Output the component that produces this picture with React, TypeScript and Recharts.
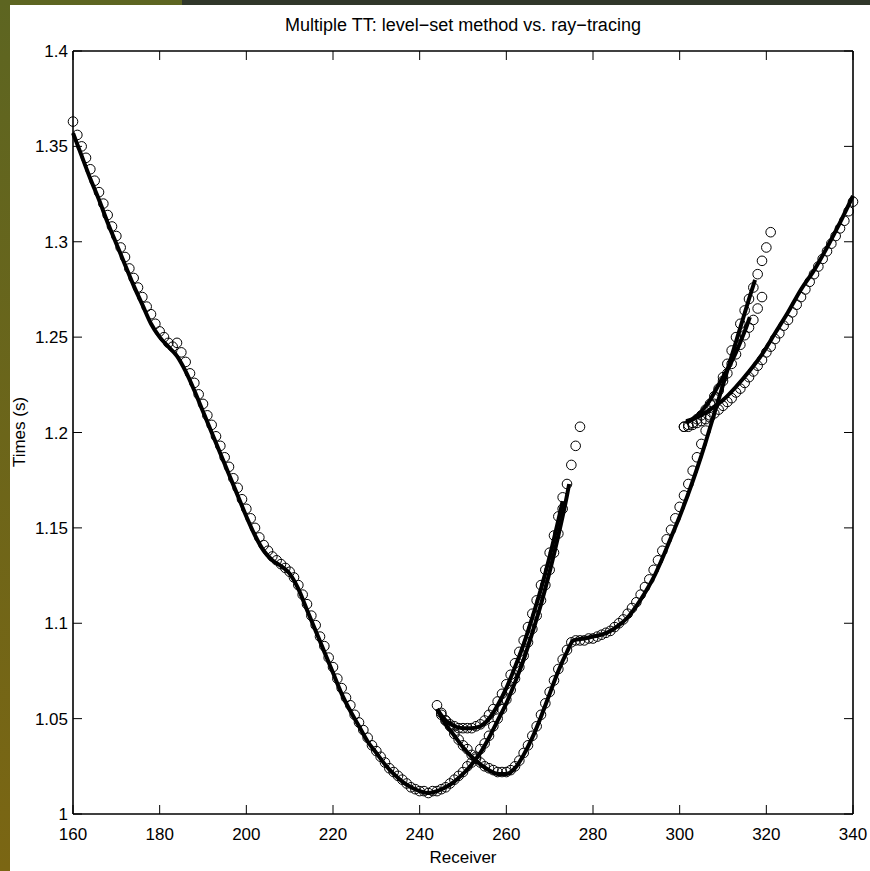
import { ComposedChart, Line, Scatter, XAxis, YAxis } from "recharts";

// axis ticks
const xTicks = [160, 180, 200, 220, 240, 260, 280, 300, 320, 340];
const yTicks = [1, 1.05, 1.1, 1.15, 1.2, 1.25, 1.3, 1.35, 1.4];
const yTickLabels = ["1", "1.05", "1.1", "1.15", "1.2", "1.25", "1.3", "1.35", "1.4"];

// level-set method (thick lines): receivers + times per branch
const lineARx = [160, 162, 164, 166, 168, 170, 172, 174, 176, 178, 180, 182, 184, 186, 188, 190, 192, 194, 196, 198, 200, 202, 204, 206, 208, 210, 212, 214, 216, 218, 220, 222, 224, 226, 228, 230, 232, 234, 236, 238, 240, 242, 244, 246, 248, 250, 252, 254, 256, 258, 260, 262, 264, 266, 268, 270, 272, 274, 274.5];
const lineAT = [1.357, 1.345, 1.333, 1.322, 1.31, 1.299, 1.288, 1.277, 1.267, 1.257, 1.25, 1.245, 1.24, 1.232, 1.222, 1.211, 1.2, 1.189, 1.178, 1.167, 1.156, 1.146, 1.138, 1.133, 1.13, 1.126, 1.118, 1.107, 1.096, 1.085, 1.074, 1.063, 1.054, 1.046, 1.038, 1.032, 1.026, 1.021, 1.017, 1.014, 1.012, 1.011, 1.012, 1.014, 1.017, 1.021, 1.026, 1.032, 1.04, 1.049, 1.058, 1.069, 1.081, 1.095, 1.11, 1.127, 1.146, 1.167, 1.173];

const lineMRx = [244, 246, 248, 250, 252, 254, 256, 258, 260, 262, 264, 266, 268, 270, 272, 273];
const lineMT = [1.055, 1.049, 1.046, 1.045, 1.045, 1.046, 1.05, 1.057, 1.066, 1.077, 1.089, 1.103, 1.118, 1.135, 1.154, 1.164];

const lineBRx = [244, 246, 248, 250, 252, 254, 256, 258, 260, 262, 264, 266, 268, 270, 272, 274, 275.5, 278, 280, 282, 284, 286, 288, 290, 292, 294, 296, 298, 300, 302, 304, 306, 308, 310, 312, 314, 316, 317.4];
const lineBT = [1.055, 1.047, 1.041, 1.035, 1.03, 1.026, 1.023, 1.021, 1.021, 1.024, 1.031, 1.04, 1.051, 1.063, 1.075, 1.085, 1.091, 1.092, 1.093, 1.094, 1.096, 1.099, 1.103, 1.109, 1.116, 1.124, 1.134, 1.145, 1.156, 1.168, 1.181, 1.195, 1.21, 1.225, 1.24, 1.255, 1.27, 1.28];

const lineM2Rx = [301.5, 303, 305, 307, 309, 311, 313, 315, 316.2];
const lineM2T = [1.205, 1.207, 1.211, 1.217, 1.225, 1.233, 1.242, 1.253, 1.2605];

const lineCRx = [301.5, 304, 307, 310, 313, 316, 319, 322, 325, 328, 331, 334, 337, 340];
const lineCT = [1.206, 1.208, 1.212, 1.217, 1.224, 1.232, 1.241, 1.252, 1.263, 1.275, 1.285, 1.297, 1.31, 1.324];

// ray-tracing (circles): first receiver + times at consecutive receivers
const circAStart = 160;
const circAT = [1.363, 1.356, 1.35, 1.344, 1.338, 1.332, 1.326, 1.32, 1.314, 1.308, 1.303, 1.297, 1.292, 1.286, 1.281, 1.276, 1.271, 1.266, 1.262, 1.257, 1.253, 1.25, 1.247, 1.245, 1.247, 1.242, 1.237, 1.231, 1.226, 1.22, 1.215, 1.209, 1.204, 1.198, 1.193, 1.187, 1.182, 1.176, 1.171, 1.165, 1.16, 1.155, 1.15, 1.145, 1.141, 1.138, 1.135, 1.133, 1.131, 1.129, 1.127, 1.124, 1.12, 1.115, 1.11, 1.104, 1.099, 1.093, 1.088, 1.082, 1.077, 1.071, 1.066, 1.061, 1.057, 1.052, 1.048, 1.044, 1.04, 1.036, 1.033, 1.03, 1.027, 1.024, 1.022, 1.02, 1.018, 1.016, 1.014, 1.013, 1.012, 1.012, 1.011, 1.012, 1.012, 1.013, 1.014, 1.016, 1.018, 1.02, 1.022, 1.025, 1.027, 1.03, 1.034, 1.037, 1.041, 1.046, 1.05, 1.055, 1.06, 1.065, 1.071, 1.077, 1.083, 1.09, 1.097, 1.104, 1.112, 1.12, 1.128, 1.137, 1.147, 1.16, 1.173, 1.183, 1.193, 1.203];

const circMStart = 244;
const circMT = [1.057, 1.052, 1.049, 1.047, 1.046, 1.045, 1.045, 1.045, 1.045, 1.046, 1.047, 1.049, 1.052, 1.055, 1.059, 1.063, 1.068, 1.073, 1.079, 1.085, 1.091, 1.098, 1.105, 1.112, 1.12, 1.128, 1.137, 1.146, 1.156, 1.166];

const circBStart = 245;
const circBT = [1.053, 1.049, 1.046, 1.042, 1.039, 1.036, 1.034, 1.031, 1.029, 1.027, 1.025, 1.024, 1.023, 1.022, 1.022, 1.022, 1.023, 1.025, 1.028, 1.032, 1.036, 1.041, 1.046, 1.052, 1.058, 1.064, 1.07, 1.076, 1.081, 1.086, 1.09, 1.091, 1.091, 1.091, 1.092, 1.092, 1.093, 1.094, 1.095, 1.096, 1.098, 1.1, 1.102, 1.105, 1.108, 1.111, 1.115, 1.119, 1.123, 1.128, 1.133, 1.138, 1.144, 1.149, 1.155, 1.161, 1.167, 1.173, 1.18, 1.187, 1.194, 1.201, 1.208, 1.215, 1.222, 1.229, 1.236, 1.243, 1.25, 1.257, 1.264, 1.27, 1.276, 1.283, 1.29, 1.297, 1.305];

const circM2Start = 301;
const circM2T = [1.203, 1.204, 1.205, 1.207, 1.209, 1.212, 1.215, 1.219, 1.223, 1.227, 1.231, 1.236, 1.241, 1.246, 1.251, 1.255, 1.259, 1.265, 1.271];

const circCStart = 301;
const circCT = [1.203, 1.203, 1.204, 1.205, 1.206, 1.207, 1.209, 1.21, 1.212, 1.214, 1.216, 1.218, 1.221, 1.223, 1.226, 1.229, 1.232, 1.235, 1.238, 1.242, 1.245, 1.249, 1.252, 1.256, 1.259, 1.263, 1.267, 1.271, 1.275, 1.279, 1.283, 1.287, 1.291, 1.295, 1.299, 1.303, 1.307, 1.311, 1.316, 1.321];

const toPoints = (rx: number[], t: number[]) => rx.map((x, i) => ({ x, y: t[i] }));
const toCircles = (start: number, t: number[]) => t.map((y, i) => ({ x: start + i, y }));

const lines = [
  toPoints(lineARx, lineAT),
  toPoints(lineMRx, lineMT),
  toPoints(lineBRx, lineBT),
  toPoints(lineM2Rx, lineM2T),
  toPoints(lineCRx, lineCT),
];
const circles = [
  toCircles(circAStart, circAT),
  toCircles(circMStart, circMT),
  toCircles(circBStart, circBT),
  toCircles(circM2Start, circM2T),
  toCircles(circCStart, circCT),
];

const FONT = "'Liberation Sans', Arial, Helvetica, sans-serif";

const BottomTick = ({ x, y, payload }: any) => (
  <g>
    <line x1={x} y1={y} x2={x} y2={y - 9} stroke="#000" strokeWidth={1} />
    <text x={x} y={y + 26} textAnchor="middle" fontSize={17} fontFamily={FONT} fill="#000">
      {payload.value}
    </text>
  </g>
);

const LeftTick = ({ x, y, payload }: any) => (
  <g>
    <line x1={x} y1={y} x2={x + 9} y2={y} stroke="#000" strokeWidth={1} />
    <text x={x - 5} y={y + 6} textAnchor="end" fontSize={17} fontFamily={FONT} fill="#000">
      {yTickLabels[yTicks.indexOf(payload.value)] ?? payload.value}
    </text>
  </g>
);

const TopTick = ({ x, y }: any) => (
  <line x1={x} y1={y} x2={x} y2={y + 9} stroke="#000" strokeWidth={1} />
);

const RightTick = ({ x, y }: any) => (
  <line x1={x} y1={y} x2={x - 9} y2={y} stroke="#000" strokeWidth={1} />
);

const ringShape = (props: any) => (
  <circle cx={props.cx} cy={props.cy} r={4.8} fill="none" stroke="#000" strokeWidth={1} />
);

export default function App() {
  return (
    <div
      style={{
        position: "absolute",
        left: 0,
        top: 0,
        width: 870,
        height: 871,
        overflow: "hidden",
        background: "linear-gradient(to bottom, #5d6521, #7b6613)",
      }}
    >
      <div style={{ position: "absolute", left: 182, top: 0, width: 688, height: 5, background: "#30372a" }} />
      <div style={{ position: "absolute", left: 10, top: 5, width: 860, height: 866, background: "#fff" }}>
        <ComposedChart
          width={860}
          height={866}
          margin={{ top: 45, right: 16, left: 3, bottom: 27 }}
          style={{ fontFamily: FONT }}
        >
          <XAxis
            xAxisId="bottom"
            dataKey="x"
            type="number"
            domain={[160, 340]}
            ticks={xTicks}
            interval={0}
            height={30}
            tickSize={0}
            tickMargin={0}
            tick={<BottomTick />}
            axisLine={{ stroke: "#000", strokeWidth: 1.6 }}
            tickLine={false}
          />
          <XAxis
            xAxisId="top"
            dataKey="x"
            orientation="top"
            type="number"
            domain={[160, 340]}
            ticks={xTicks}
            interval={0}
            height={1}
            tickSize={0}
            tickMargin={0}
            tick={<TopTick />}
            axisLine={{ stroke: "#000", strokeWidth: 1.6 }}
            tickLine={false}
          />
          <YAxis
            yAxisId="left"
            type="number"
            domain={[1, 1.4]}
            ticks={yTicks}
            interval={0}
            width={60}
            tickSize={0}
            tickMargin={0}
            tick={<LeftTick />}
            axisLine={{ stroke: "#000", strokeWidth: 1.6 }}
            tickLine={false}
          />
          <YAxis
            yAxisId="right"
            orientation="right"
            type="number"
            domain={[1, 1.4]}
            ticks={yTicks}
            interval={0}
            width={1}
            tickSize={0}
            tickMargin={0}
            tick={<RightTick />}
            axisLine={{ stroke: "#000", strokeWidth: 1.6 }}
            tickLine={false}
          />
          {circles.map((d, i) => (
            <Scatter
              key={"c" + i}
              xAxisId="bottom"
              yAxisId="left"
              data={d}
              dataKey="y"
              shape={ringShape}
              isAnimationActive={false}
            />
          ))}
          {lines.map((d, i) => (
            <Line
              key={"l" + i}
              xAxisId="bottom"
              yAxisId="left"
              data={d}
              dataKey="y"
              type="monotone"
              stroke="#000"
              strokeWidth={4}
              dot={false}
              activeDot={false}
              isAnimationActive={false}
            />
          ))}
          {/* invisible series so the mirrored top/right axes get drawn */}
          <Scatter
            xAxisId="top"
            yAxisId="right"
            data={circles[4]}
            dataKey="y"
            shape={() => <g />}
            isAnimationActive={false}
          />
          <text x={453} y={26} textAnchor="middle" fontSize={18} fontFamily={FONT} fill="#000">
            Multiple TT: level−set method vs. ray−tracing
          </text>
          <text x={453} y={858} textAnchor="middle" fontSize={17} fontFamily={FONT} fill="#000">
            Receiver
          </text>
          <text
            x={15}
            y={427}
            textAnchor="middle"
            fontSize={17}
            fontFamily={FONT}
            fill="#000"
            transform="rotate(-90 15 427)"
          >
            Times (s)
          </text>
        </ComposedChart>
      </div>
    </div>
  );
}
